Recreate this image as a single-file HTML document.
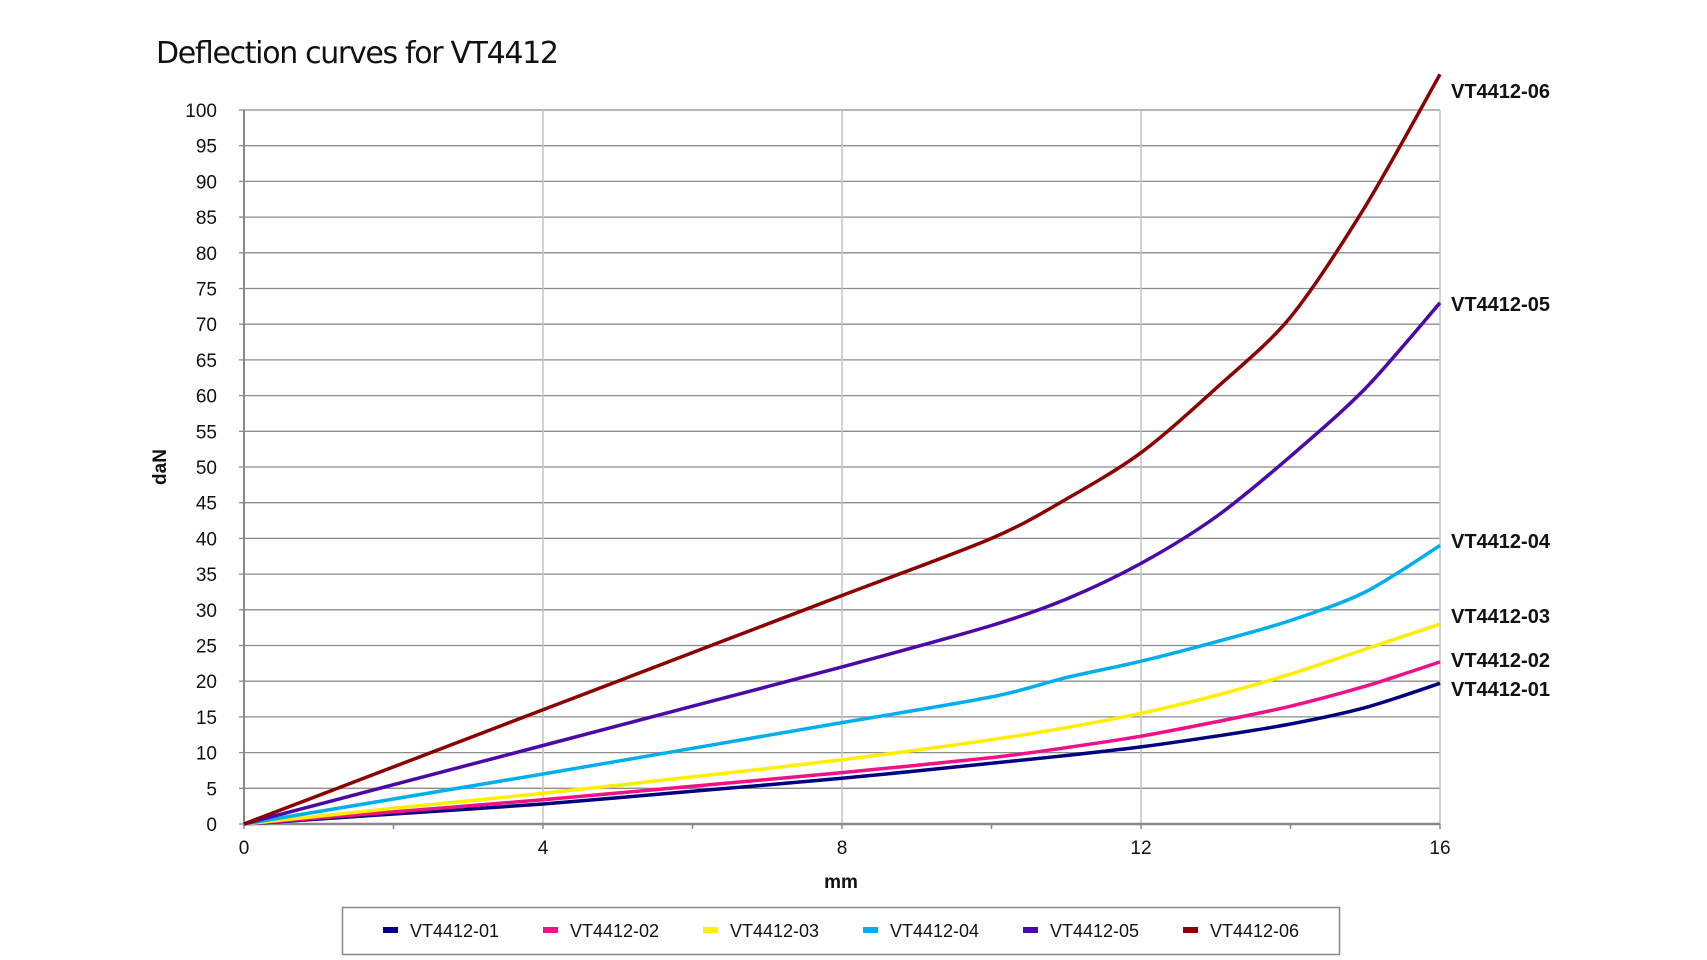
<!DOCTYPE html>
<html><head><meta charset="utf-8">
<style>
html,body{margin:0;padding:0;background:#fff;}
svg{display:block;font-family:"Liberation Sans",Arial,sans-serif;}
</style></head>
<body>
<svg id="c" width="1707" height="960" viewBox="0 0 1707 960" xmlns="http://www.w3.org/2000/svg">
<text x="156" y="63" font-size="30" fill="#111" font-family="DejaVu Sans, Liberation Sans, sans-serif" font-weight="normal" textLength="403">Deflection curves for VT4412</text>
<g id="grid"></g>
<g id="series"></g>
<g font-weight="bold" font-size="20" fill="#111">
<text x="1451" y="98">VT4412-06</text>
<text x="1451" y="311">VT4412-05</text>
<text x="1451" y="548">VT4412-04</text>
<text x="1451" y="623">VT4412-03</text>
<text x="1451" y="667">VT4412-02</text>
<text x="1451" y="696">VT4412-01</text>
</g>
<text x="0" y="0" font-size="19" font-weight="bold" fill="#111" text-anchor="middle" transform="translate(166,467) rotate(-90)">daN</text>
<text x="841" y="888" font-size="19" font-weight="bold" fill="#111" text-anchor="middle">mm</text>
<rect x="342.5" y="907.5" width="997" height="47" fill="#fff" stroke="#888" stroke-width="1.5"/>
<g id="legend" font-size="18" fill="#111"></g>
</svg>
<script>
var X0=244,X1=1440,Y0=824,Y1=110;
function px(x){return X0+(X1-X0)*x/16;}
function py(y){return Y0-(Y0-Y1)*y/100;}
var g=document.getElementById('grid'),s="";
for(var v=5;v<=100;v+=5){s+='<line x1="'+X0+'" x2="'+X1+'" y1="'+py(v)+'" y2="'+py(v)+'" stroke="#8c8c8c" stroke-width="1.3"/>';}
for(var m=4;m<=16;m+=4){s+='<line x1="'+px(m)+'" x2="'+px(m)+'" y1="'+Y1+'" y2="'+Y0+'" stroke="#c4c4c4" stroke-width="1.5"/>';}
s+='<line x1="'+X0+'" x2="'+X0+'" y1="'+Y1+'" y2="'+Y0+'" stroke="#888" stroke-width="2"/>';
s+='<line x1="'+X0+'" x2="'+X1+'" y1="'+Y0+'" y2="'+Y0+'" stroke="#888" stroke-width="2.5"/>';
for(var v=0;v<=100;v+=5){s+='<line x1="'+(X0-5)+'" x2="'+X0+'" y1="'+py(v)+'" y2="'+py(v)+'" stroke="#888" stroke-width="1.3"/>';
 s+='<text x="217" y="'+(py(v)+7)+'" font-size="19" text-anchor="end" fill="#111">'+v+'</text>';}
for(var m=0;m<=16;m+=2){s+='<line x1="'+px(m)+'" x2="'+px(m)+'" y1="'+Y0+'" y2="'+(Y0+5)+'" stroke="#888" stroke-width="1.5"/>';
 if(m%4==0)s+='<text x="'+px(m)+'" y="854" font-size="19" text-anchor="middle" fill="#111">'+m+'</text>';}
g.innerHTML=s;
var xs=[0,2,4,6,8,10,11,12,13,14,15,16];
var data=[
["#8b0000",[0,8,16,24,32,40,45.5,52,61,71,86.5,105],"VT4412-06"],
["#4b0aa8",[0,5.5,11,16.5,22,27.8,31.5,36.5,43,51.5,61,73],"VT4412-05"],
["#00aeef",[0,3.5,7,10.6,14.2,17.8,20.5,22.8,25.5,28.5,32.5,39],"VT4412-04"],
["#ffee00",[0,2.2,4.3,6.6,9,11.8,13.5,15.5,18,21,24.5,28],"VT4412-03"],
["#ee1188",[0,1.7,3.4,5.3,7.2,9.3,10.7,12.3,14.3,16.5,19.3,22.7],"VT4412-02"],
["#000080",[0,1.4,2.8,4.6,6.4,8.5,9.6,10.8,12.3,14,16.3,19.7],"VT4412-01"]];
function smooth(P){
 var d="M"+P[0][0].toFixed(1)+","+P[0][1].toFixed(1);
 for(var i=0;i<P.length-1;i++){
  var p0=P[Math.max(i-1,0)],p1=P[i],p2=P[i+1],p3=P[Math.min(i+2,P.length-1)];
  var t=1/6*0.9;
  var c1x=p1[0]+(p2[0]-p0[0])*t,c1y=p1[1]+(p2[1]-p0[1])*t;
  var c2x=p2[0]-(p3[0]-p1[0])*t,c2y=p2[1]-(p3[1]-p1[1])*t;
  d+=" C"+c1x.toFixed(1)+","+c1y.toFixed(1)+" "+c2x.toFixed(1)+","+c2y.toFixed(1)+" "+p2[0].toFixed(1)+","+p2[1].toFixed(1);
 }
 return d;
}
var se="";
for(var i=data.length-1;i>=0;i--){
 var d=data[i],p=[];
 for(var k=0;k<xs.length;k++)p.push([px(xs[k]),py(d[1][k])]);
 se+='<path d="'+smooth(p)+'" fill="none" stroke="'+d[0]+'" stroke-width="3.5" stroke-linejoin="round"/>';
}
document.getElementById('series').innerHTML=se;
var lg="",order=[5,4,3,2,1,0];
for(var j=0;j<6;j++){var d=data[order[j]];var x=383+j*160;
 lg+='<rect x="'+x+'" y="927" width="15" height="6" fill="'+d[0]+'"/>';
 lg+='<text x="'+(x+27)+'" y="937">'+d[2]+'</text>';}
document.getElementById('legend').innerHTML=lg;
</script>
</body></html>
